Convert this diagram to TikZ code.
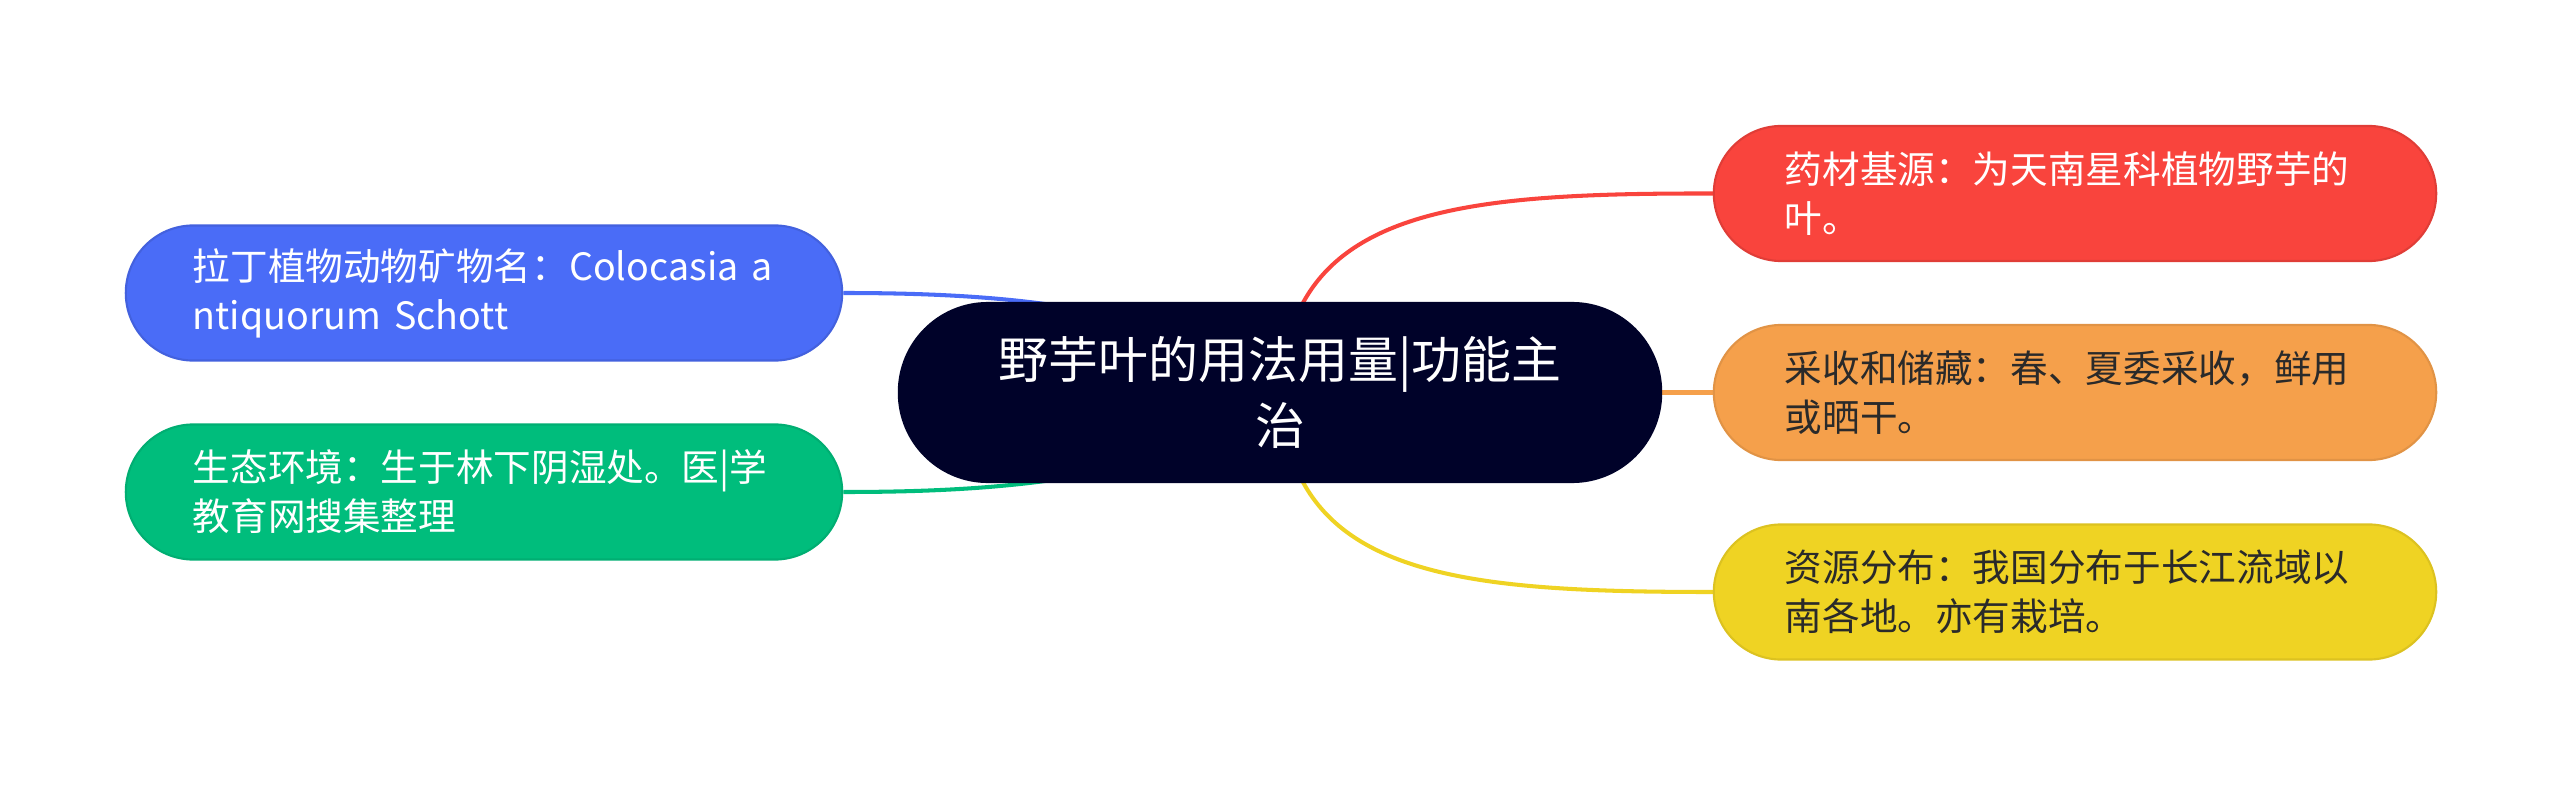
\documentclass[tikz,border=0pt]{standalone}
\usepackage{fontspec}
\setmainfont{Noto Sans CJK SC}
\usetikzlibrary{backgrounds}
\definecolor{cdark}{HTML}{000229}
\definecolor{cblue}{HTML}{4A6CF7}
\definecolor{cgreen}{HTML}{00BD7C}
\definecolor{cred}{HTML}{F9443D}
\definecolor{corange}{HTML}{F5A04B}
\definecolor{cyellow}{HTML}{EFD323}
\definecolor{ctext}{HTML}{2A2A2A}
\begin{document}
\begin{tikzpicture}[x=0.01cm,y=-0.01cm,
  rootbox/.style={fill=cdark, draw=none, rounded corners=0.9cm, minimum height=1.81cm,
    text width=6.04cm, inner xsep=0.8cm, inner ysep=0pt, align=center, text=white,
    font=\fontsize{14.2}{19}\selectfont},
  leaf/.style={rounded corners=0.675cm, minimum height=1.35cm, inner ysep=0pt,
    align=left, font=\fontsize{10.7}{13.9}\selectfont, line width=0.6pt},
  rleaf/.style={leaf, text width=5.80cm, inner xsep=0.71cm},
  lleaf/.style={leaf, text width=5.82cm, inner xsep=0.67cm},
  link/.style={line width=1.15pt}]
\useasboundingbox (0,0) rectangle (2560,785);

\node[rootbox] (root) at (1280,392.5) {野芋叶的用法用量|功能主\\治};

\node[rleaf, fill=cred, draw=cred!90!black, text=white] (red) at (2075,193.5) {药材基源：为天南星科植物野芋的\\叶。};
\node[rleaf, fill=corange, draw=corange!92!black, text=ctext] (orange) at (2075,392.5) {采收和储藏：春、夏委采收，鲜用\\或晒干。};
\node[rleaf, fill=cyellow, draw=cyellow!92!black, text=ctext] (yellow) at (2075,592) {资源分布：我国分布于长江流域以\\南各地。亦有栽培。};

\node[lleaf, fill=cblue, draw=cblue!90!black, text=white] (blue) at (484,293) {拉丁植物动物矿物名：Colocasia~a\\ntiquorum~Schott};
\node[lleaf, fill=cgreen, draw=cgreen!92!black, text=white] (green) at (484,492) {生态环境：生于林下阴湿处。医|学\\教育网搜集整理};

\begin{scope}[on background layer]
\draw[link, cred] (root.center) .. controls (1290,210) and (1450,193) .. (red.west);
\draw[link, corange] (root.center) -- (orange.west);
\draw[link, cyellow] (root.center) .. controls (1290,575) and (1450,592) .. (yellow.west);
\draw[link, cblue] (blue.east) .. controls (1000,293) and (1180,305) .. (root.center);
\draw[link, cgreen] (green.east) .. controls (1000,492) and (1180,480) .. (root.center);
\end{scope}
\end{tikzpicture}
\end{document}
